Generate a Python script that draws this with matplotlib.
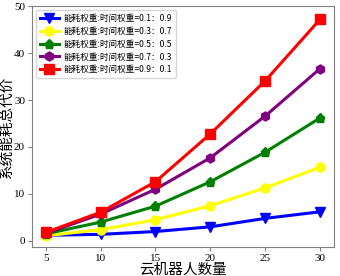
import matplotlib
matplotlib.use("Agg")
import matplotlib.pyplot as plt

plt.rcParams['font.family'] = ['Liberation Serif', 'Noto Sans CJK SC']

x = [5, 10, 15, 20, 25, 30]
w01 = [1.2, 1.4, 2.0, 3.0, 4.8, 6.2]
w03 = [1.1, 2.4, 4.5, 7.5, 11.3, 15.7]
w05 = [1.5, 4.0, 7.4, 12.6, 18.9, 26.2]
w07 = [1.6, 5.7, 11.0, 17.7, 26.6, 36.7]
w09 = [1.8, 6.1, 12.6, 22.8, 34.1, 47.2]
labels = ['能耗权重:时间权重=0.1：0.9', '能耗权重:时间权重=0.3：0.7',
          '能耗权重:时间权重=0.5：0.5', '能耗权重:时间权重=0.7：0.3',
          '能耗权重:时间权重=0.9：0.1']

fig = plt.figure(figsize=(3.4, 2.76), dpi=100)
ax = fig.add_axes([0.094, 0.105, 0.888, 0.873])

series = [(w01, 'blue', 'v'), (w03, 'yellow', 'o'), (w05, 'green', 'p'),
          (w07, 'purple', 'h'), (w09, 'red', 's')]
for (y, c, m), lab in zip(series, labels):
    ax.plot(x, y, color=c, marker=m, lw=2.2, ms=6.5, label=lab)

ax.set_xticks(x)
ax.set_yticks([0, 10, 20, 30, 40, 50])
ax.set_ylim(-1.3, 50)
ax.set_xlim(3.75, 31.25)
ax.tick_params(labelsize=8, color='gray', length=3, pad=2)
for s in ax.spines.values():
    s.set_color('gray')
ax.set_xlabel('云机器人数量', fontsize=10.5, labelpad=0)
ax.set_ylabel('系统能耗总代价', fontsize=10.5, labelpad=0)
ax.legend(loc='upper left', handlelength=2.2, handletextpad=0.6, labelspacing=0.45,
          prop={'family': ['Noto Sans CJK SC', 'Liberation Serif'], 'size': 6.2})

fig.savefig('out.png')
